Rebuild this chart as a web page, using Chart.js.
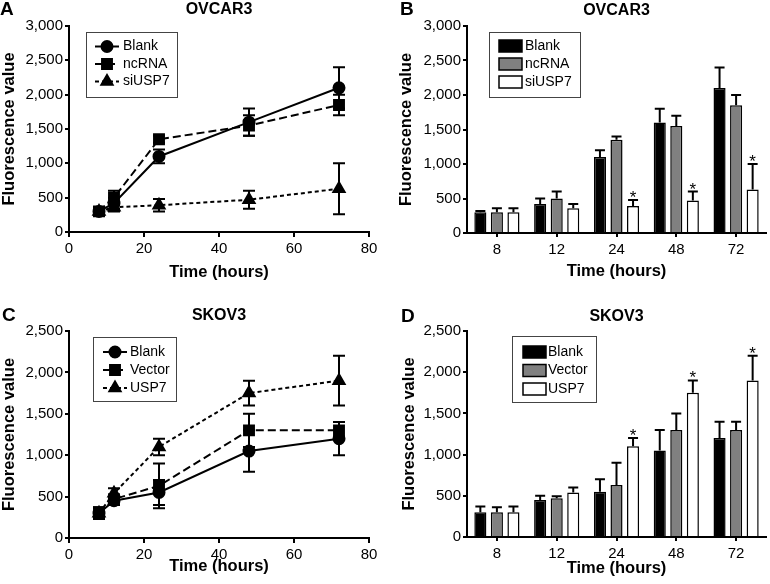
<!DOCTYPE html>
<html>
<head>
<meta charset="utf-8">
<script src="https://cdn.jsdelivr.net/npm/chart.js@4.4.1/dist/chart.umd.min.js"></script>
<style>
    body { margin: 0; background: #fff; }
    .panel { position: absolute; width: 385px; height: 292px; }
</style>
</head>
<body>
<div class="panel" style="left:0;top:0"><canvas id="chartA" width="385" height="292"></canvas></div>
<div class="panel" style="left:385px;top:0"><canvas id="chartB" width="385" height="292"></canvas></div>
<div class="panel" style="left:0;top:292px"><canvas id="chartC" width="385" height="292"></canvas></div>
<div class="panel" style="left:385px;top:292px"><canvas id="chartD" width="385" height="292"></canvas></div>
<script>
// time points (hours)
const hours = [8, 12, 24, 48, 72];
const hourLabels = ['8', '12', '24', '48', '72'];

// OVCAR3 (A, B)
const ovcarBlank = [300, 420, 1100, 1600, 2100];
const ovcarBlankSd = [20, 80, 100, 200, 300];
const ovcarNc = [300, 500, 1350, 1550, 1850];
const ovcarNcSd = [60, 100, 50, 150, 150];
const ovcarSi = [300, 360, 390, 470, 630];
const ovcarSiSd = [60, 60, 90, 130, 370];
const ovcarStars = [false, false, true, true, true];

// SKOV3 (C, D)
const skovBlank = [300, 450, 550, 1050, 1200];
const skovBlankSd = [70, 50, 150, 250, 200];
const skovVector = [300, 470, 630, 1300, 1300];
const skovVectorSd = [60, 25, 270, 200, 100];
const skovUsp7 = [300, 540, 1100, 1750, 1900];
const skovUsp7Sd = [70, 60, 100, 150, 300];
const skovStars = [false, false, true, true, true];

const FONT = '"Liberation Sans", Arial, Helvetica, sans-serif';
Chart.defaults.font.family = FONT;
Chart.defaults.color = '#000';

// error bars (+ asterisks) drawn through the y scale
const errorBars = {
    id: 'errorBars',
    afterDatasetsDraw(chart) {
        const ctx = chart.ctx;
        const yScale = chart.scales.y;
        const isBar = chart.config.type === 'bar';
        ctx.save();
        ctx.strokeStyle = '#000';
        ctx.fillStyle = '#000';
        ctx.lineWidth = 2;
        ctx.font = '17px ' + FONT;
        ctx.textAlign = 'center';
        ctx.textBaseline = 'alphabetic';
        chart.data.datasets.forEach((ds, i) => {
            const meta = chart.getDatasetMeta(i);
            meta.data.forEach((el, j) => {
                const v = isBar ? ds.data[j] : ds.data[j].y;
                const top = yScale.getPixelForValue(v + ds.sd[j]);
                const bottom = isBar ? el.y : yScale.getPixelForValue(v - ds.sd[j]);
                const half = isBar ? 5 : 6;
                ctx.beginPath();
                ctx.moveTo(el.x, top);
                ctx.lineTo(el.x, bottom);
                ctx.moveTo(el.x - half, top);
                ctx.lineTo(el.x + half, top);
                if (!isBar) {
                    ctx.moveTo(el.x - half, bottom);
                    ctx.lineTo(el.x + half, bottom);
                }
                ctx.stroke();
                if (ds.stars && ds.stars[j]) {
                    ctx.fillText('*', el.x, top + 3);
                }
            });
        });
        ctx.restore();
    }
};

// legend in a box, like the original figure
const boxLegend = {
    id: 'boxLegend',
    afterDraw(chart, args, o) {
        const ctx = chart.ctx;
        ctx.save();
        ctx.strokeStyle = '#444';
        ctx.lineWidth = 1;
        ctx.strokeRect(o.x + 0.5, o.y + 0.5, o.w, o.h);
        ctx.font = '14px ' + FONT;
        ctx.textBaseline = 'middle';
        ctx.textAlign = 'left';
        chart.data.datasets.forEach((ds, i) => {
            const cy = o.y + o.first + i * o.gap;
            const sx = o.x + o.symX;
            if (chart.config.type === 'bar') {
                ctx.fillStyle = ds.backgroundColor;
                ctx.fillRect(sx, cy - 6, 23, 12);
                ctx.strokeStyle = '#000';
                ctx.lineWidth = 1.5;
                ctx.strokeRect(sx, cy - 6, 23, 12);
            } else {
                ctx.strokeStyle = '#000';
                ctx.lineWidth = 2;
                ctx.setLineDash(ds.borderDash || []);
                ctx.beginPath();
                ctx.moveTo(sx, cy);
                ctx.lineTo(sx + 24, cy);
                ctx.stroke();
                ctx.setLineDash([]);
                ctx.fillStyle = '#000';
                Chart.helpers.drawPoint(ctx, {
                    pointStyle: ds.pointStyle, radius: ds.pointRadius, borderWidth: 1, rotation: 0
                }, sx + 12, cy);
            }
            ctx.fillStyle = '#000';
            ctx.fillText(ds.label, o.x + o.textX, cy);
        });
        ctx.restore();
    }
};

// panel letter and title
const panelText = {
    id: 'panelText',
    afterDraw(chart, args, o) {
        const ctx = chart.ctx;
        const area = chart.chartArea;
        ctx.save();
        ctx.fillStyle = '#000';
        ctx.textBaseline = 'middle';
        ctx.textAlign = 'left';
        ctx.font = 'bold 19px ' + FONT;
        ctx.fillText(o.letter, o.letterX, o.letterY);
        ctx.textAlign = 'center';
        ctx.font = 'bold 16px ' + FONT;
        ctx.fillText(o.title, (area.left + area.right) / 2, o.titleY);
        ctx.restore();
    }
};

function points(values) {
    return values.map((v, i) => ({ x: hours[i], y: v }));
}

function yAxis(max, width) {
    return {
        min: 0, max: max,
        ticks: { stepSize: 500, font: { size: 15 }, padding: 2 },
        grid: { drawOnChartArea: false, tickLength: 4, color: '#000', lineWidth: 2 },
        border: { color: '#000', width: 2 },
        title: { display: true, text: 'Fluorescence value', font: { size: 16.5, weight: 'bold' }, padding: 0 },
        afterFit: (s) => { s.width = width; }
    };
}

function lineChart(id, p) {
    const styles = [
        { pointStyle: 'circle', pointRadius: 5.5, borderDash: [] },
        { pointStyle: 'rect', pointRadius: 7, borderDash: [8, 4] },
        { pointStyle: 'triangle', pointRadius: 6.5, borderDash: [4, 3] }
    ];
    return new Chart(document.getElementById(id), {
        type: 'line',
        data: {
            datasets: p.series.map((s, i) => Object.assign({
                label: s.label,
                data: points(s.values),
                sd: s.sd,
                borderColor: '#000',
                backgroundColor: '#000',
                pointBackgroundColor: '#000',
                pointBorderColor: '#000',
                borderWidth: 2,
                tension: 0
            }, styles[i]))
        },
        options: {
            responsive: false,
            animation: false,
            layout: { padding: p.padding },
            plugins: {
                legend: { display: false },
                tooltip: { enabled: false },
                boxLegend: p.legend,
                panelText: p.text
            },
            scales: {
                x: {
                    type: 'linear', min: 0, max: 80,
                    ticks: { stepSize: 20, font: { size: 15 }, padding: 3 },
                    grid: { drawOnChartArea: false, tickLength: 5, color: '#000', lineWidth: 2 },
                    border: { color: '#000', width: 2 },
                    title: { display: true, text: 'Time (hours)', font: { size: 16.5, weight: 'bold' }, padding: { top: 0, bottom: p.titlePad } },
                    afterFit: (s) => { s.height = p.xHeight; }
                },
                y: yAxis(p.max, p.yWidth)
            }
        },
        plugins: [errorBars, boxLegend, panelText]
    });
}

function barChart(id, p) {
    const fills = ['#000000', '#808080', '#ffffff'];
    return new Chart(document.getElementById(id), {
        type: 'bar',
        data: {
            labels: hourLabels,
            datasets: p.series.map((s, i) => ({
                label: s.label,
                data: s.values,
                sd: s.sd,
                stars: s.stars,
                backgroundColor: fills[i],
                borderColor: '#000',
                borderWidth: 1.5,
                categoryPercentage: 0.83,
                barPercentage: 0.73
            }))
        },
        options: {
            responsive: false,
            animation: false,
            layout: { padding: p.padding },
            plugins: {
                legend: { display: false },
                tooltip: { enabled: false },
                boxLegend: p.legend,
                panelText: p.text
            },
            scales: {
                x: {
                    ticks: { font: { size: 15 }, padding: 4 },
                    grid: { drawOnChartArea: false, offset: false, tickLength: 4, color: '#000', lineWidth: 2 },
                    border: { color: '#000', width: 2 },
                    title: { display: true, text: 'Time (hours)', font: { size: 16.5, weight: 'bold' }, padding: { top: 0, bottom: p.titlePad } },
                    afterFit: (s) => { s.height = p.xHeight; }
                },
                y: yAxis(p.max, p.yWidth)
            }
        },
        plugins: [errorBars, boxLegend, panelText]
    });
}

lineChart('chartA', {
    series: [
        { label: 'Blank', values: ovcarBlank, sd: ovcarBlankSd },
        { label: 'ncRNA', values: ovcarNc, sd: ovcarNcSd },
        { label: 'siUSP7', values: ovcarSi, sd: ovcarSiSd }
    ],
    max: 3000,
    padding: { left: 0, top: 26, right: 16, bottom: 0 },
    yWidth: 69, xHeight: 60, titlePad: 10,
    legend: { x: 86, y: 32, w: 91, h: 65, first: 14.5, gap: 17.5, symX: 9, textX: 37 },
    text: { letter: 'A', letterX: 0, letterY: 10, title: 'OVCAR3', titleY: 10 }
});

barChart('chartB', {
    series: [
        { label: 'Blank', values: ovcarBlank, sd: ovcarBlankSd },
        { label: 'ncRNA', values: ovcarNc, sd: ovcarNcSd },
        { label: 'siUSP7', values: ovcarSi, sd: ovcarSiSd, stars: ovcarStars }
    ],
    max: 3000,
    padding: { left: 12, top: 26, right: 4, bottom: 0 },
    yWidth: 70, xHeight: 59, titlePad: 11,
    legend: { x: 104, y: 32, w: 91, h: 65, first: 14, gap: 18, symX: 10, textX: 36 },
    text: { letter: 'B', letterX: 15, letterY: 10, title: 'OVCAR3', titleY: 10.5 }
});

lineChart('chartC', {
    series: [
        { label: 'Blank', values: skovBlank, sd: skovBlankSd },
        { label: 'Vector', values: skovVector, sd: skovVectorSd },
        { label: 'USP7', values: skovUsp7, sd: skovUsp7Sd }
    ],
    max: 2500,
    padding: { left: 0, top: 39, right: 16, bottom: 0 },
    yWidth: 69, xHeight: 46, titlePad: 8,
    legend: { x: 93, y: 45, w: 83, h: 64, first: 15, gap: 18, symX: 10, textX: 37 },
    text: { letter: 'C', letterX: 2, letterY: 24, title: 'SKOV3', titleY: 24 }
});

barChart('chartD', {
    series: [
        { label: 'Blank', values: skovBlank, sd: skovBlankSd },
        { label: 'Vector', values: skovVector, sd: skovVectorSd },
        { label: 'USP7', values: skovUsp7, sd: skovUsp7Sd, stars: skovStars }
    ],
    max: 2500,
    padding: { left: 15, top: 39, right: 4, bottom: 0 },
    yWidth: 67, xHeight: 47, titlePad: 6,
    legend: { x: 127, y: 44, w: 84, h: 66, first: 16, gap: 18.5, symX: 11, textX: 36 },
    text: { letter: 'D', letterX: 16, letterY: 25, title: 'SKOV3', titleY: 25 }
});
</script>
</body>
</html>
